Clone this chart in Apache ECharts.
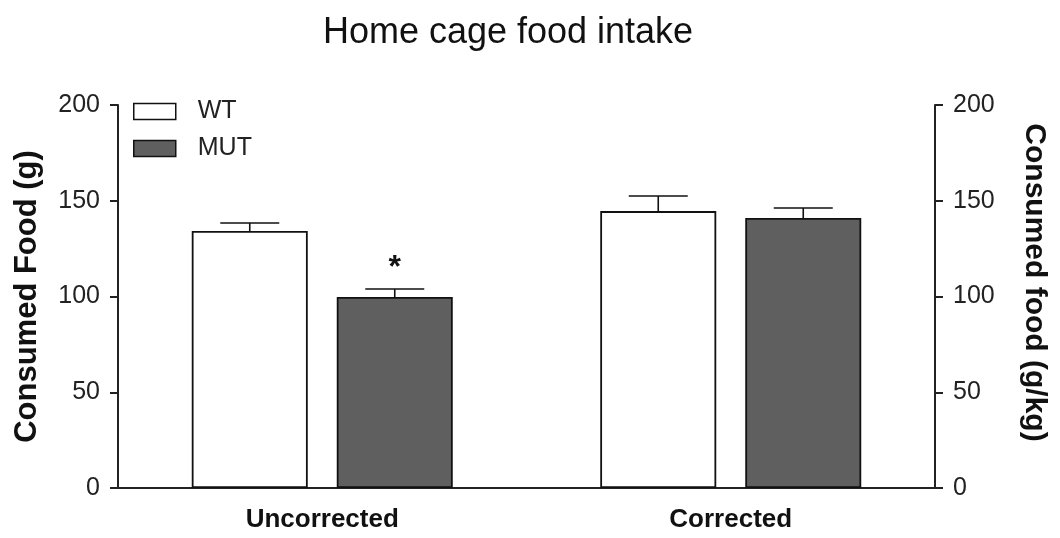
<!DOCTYPE html>
<html>
<head>
<meta charset="utf-8">
<title>Home cage food intake</title>
<script src="https://cdn.jsdelivr.net/npm/echarts@6/dist/echarts.min.js"></script>
<style>
  html, body { margin: 0; padding: 0; background: #fff; }
  #chart { width: 1060px; height: 538px; }
</style>
</head>
<body>
<div id="chart"></div>
<script>
// data
var categories = ['Uncorrected', 'Corrected'];
var wtMean = [134.2, 144.6];
var wtErr = [4.2, 7.9];
var mutMean = [99.7, 141.0];
var mutErr = [4.2, 5.2];
var mutSig = ['*', ''];
var yTicks = [0, 50, 100, 150, 200];

var BAR_W = 116;
var BAR_GAP = 29;
var FONT = '"Liberation Sans", Arial, sans-serif';

function errData(mean, err) {
  return mean.map(function (m, i) {
    return [i, m, err[i]];
  });
}

// error bar + significance mark, shifted onto its own bar
function errRender(shift, sig) {
  return function (params, api) {
    var i = api.value(0);
    var top = api.value(1) + api.value(2);
    var base = api.coord([i, api.value(1)]);
    var tip = api.coord([i, top]);
    var x = base[0] + shift;
    var half = 29.5;
    var style = { stroke: '#111', lineWidth: 1.6 };
    var kids = [
      { type: 'line', shape: { x1: x, y1: base[1], x2: x, y2: tip[1] }, style: style },
      { type: 'line', shape: { x1: x - half, y1: tip[1], x2: x + half, y2: tip[1] }, style: style }
    ];
    var s = sig ? sig[params.dataIndex] : '';
    if (s) {
      kids.push({
        type: 'text',
        x: x, y: tip[1] - 5,
        style: { text: s, fill: '#111', font: 'bold 32px ' + FONT, align: 'center', verticalAlign: 'bottom' }
      });
    }
    return { type: 'group', children: kids };
  };
}

var chart = echarts.init(document.getElementById('chart'));

var yAxisBase = {
  type: 'value',
  min: yTicks[0],
  max: yTicks[yTicks.length - 1],
  interval: 50,
  splitLine: { show: false },
  axisLine: { show: true, lineStyle: { color: '#222', width: 2 } },
  axisTick: { show: true, length: 8, lineStyle: { color: '#222', width: 2 } },
  axisLabel: { color: '#222', fontSize: 25, fontFamily: FONT, margin: 18 },
  nameLocation: 'middle',
  nameTextStyle: { color: '#111', fontSize: 30, fontWeight: 'bold', fontFamily: FONT }
};

chart.setOption({
  animation: false,
  title: {
    text: 'Home cage food intake',
    left: 503,
    top: 10,
    textAlign: 'center',
    textStyle: { color: '#111', fontSize: 36, fontWeight: 'normal', fontFamily: FONT }
  },
  legend: {
    data: ['WT', 'MUT'],
    orient: 'vertical',
    left: 133,
    top: 99,
    padding: 0,
    itemWidth: 42,
    itemHeight: 16,
    itemGap: 12,
    icon: 'rect',
    textStyle: { color: '#222', fontSize: 25, fontFamily: FONT, padding: [0, 0, 0, 17] },
    itemStyle: { borderColor: '#111', borderWidth: 1.5 }
  },
  grid: { left: 118, right: 125, top: 105, bottom: 50, containLabel: false },
  xAxis: {
    type: 'category',
    data: categories,
    axisLine: { lineStyle: { color: '#222', width: 2 } },
    axisTick: { show: false },
    axisLabel: { color: '#111', fontSize: 26, fontWeight: 'bold', fontFamily: FONT, margin: 19 }
  },
  yAxis: [
    Object.assign({}, yAxisBase, {
      position: 'left',
      name: 'Consumed Food (g)',
      nameGap: 75,
      nameTextStyle: Object.assign({}, yAxisBase.nameTextStyle, { fontSize: 31 })
    }),
    Object.assign({}, yAxisBase, {
      position: 'right',
      name: 'Consumed food (g/kg)',
      nameGap: 84,
      nameRotate: -90,
      nameTextStyle: Object.assign({}, yAxisBase.nameTextStyle, { padding: [0, 28, 0, 0] })
    })
  ],
  series: [
    {
      name: 'WT',
      type: 'bar',
      data: wtMean,
      barWidth: BAR_W,
      barGap: (BAR_GAP / BAR_W * 100) + '%',
      itemStyle: { color: '#ffffff', borderColor: '#111', borderWidth: 1.8 }
    },
    {
      name: 'MUT',
      type: 'bar',
      data: mutMean,
      barWidth: BAR_W,
      itemStyle: { color: '#5f5f5f', borderColor: '#111', borderWidth: 1.8 }
    },
    {
      type: 'custom',
      data: errData(wtMean, wtErr),
      encode: { x: 0, y: 1 },
      renderItem: errRender(-(BAR_W + BAR_GAP) / 2),
      z: 3
    },
    {
      type: 'custom',
      data: errData(mutMean, mutErr),
      encode: { x: 0, y: 1 },
      renderItem: errRender((BAR_W + BAR_GAP) / 2, mutSig),
      z: 3
    }
  ]
});
</script>
</body>
</html>
